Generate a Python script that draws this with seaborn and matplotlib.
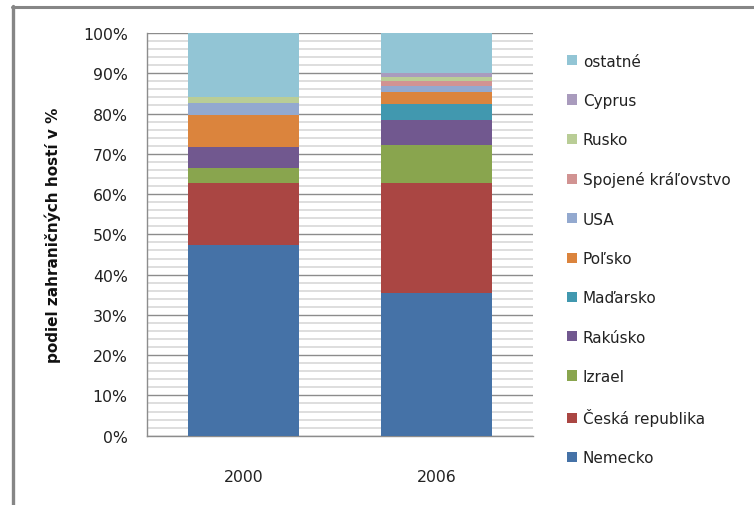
import numpy as np
import pandas as pd
import matplotlib
matplotlib.use("Agg")
import matplotlib.pyplot as plt
from matplotlib.patches import Patch
from matplotlib.lines import Line2D
from matplotlib.ticker import PercentFormatter, MultipleLocator
import seaborn as sns

# data (share of foreign guests, %)
years = ["2000", "2006"]
countries = ["Nemecko", "Česká republika", "Izrael", "Rakúsko", "Maďarsko",
             "Poľsko", "USA", "Spojené kráľovstvo", "Rusko", "Cyprus", "ostatné"]
share_2000 = [47.4, 15.3, 3.9, 5.0, 0.0, 8.1, 2.9, 0.0, 1.6, 0.0, 15.8]
share_2006 = [35.4, 27.3, 9.5, 6.2, 4.0, 2.9, 1.5, 1.3, 1.0, 0.9, 10.0]
colors = ["#4572A7", "#AA4643", "#89A54E", "#71588F", "#4198AF", "#DB843D",
          "#93A9CF", "#D19392", "#B9CD96", "#A99BBD", "#92C5D5"]

sns.set_style("white")
plt.rcParams["font.family"] = ["DejaVu Sans"]

W, H = 754, 506
fig = plt.figure(figsize=(W / 100, H / 100), dpi=100)
ax = fig.add_axes([147 / W, 1 - 436.7 / H, 386 / W, (436.7 - 34) / H])

df = pd.DataFrame({"year": years})
cum = np.cumsum(np.array([share_2000, share_2006]), axis=1)

# stacked bars: draw cumulative totals from the top series down
for i in range(len(countries) - 1, -1, -1):
    df["v"] = cum[:, i]
    sns.barplot(data=df, x="year", y="v", color=colors[i], saturation=1,
                width=0.57, linewidth=0, ax=ax, zorder=3)

ax.set_ylim(0, 100)
ax.set_xlim(-0.5, 1.5)
ax.yaxis.set_major_locator(MultipleLocator(10))
ax.yaxis.set_minor_locator(MultipleLocator(2))
ax.yaxis.set_major_formatter(PercentFormatter(100, decimals=0))
ax.grid(which="major", axis="y", color="#8c8c8c", linewidth=1.0, zorder=0)
ax.grid(which="minor", axis="y", color="#d4d4d4", linewidth=1.1, zorder=0)
ax.set_axisbelow(True)

for s in ["top", "right"]:
    ax.spines[s].set_visible(False)
for s in ["left", "bottom"]:
    ax.spines[s].set_color("#8c8c8c")
    ax.spines[s].set_linewidth(1.0)

ax.tick_params(axis="y", which="major", length=5.3, color="#8c8c8c", pad=8.6,
               labelsize=11.3, labelcolor="#222222")
ax.tick_params(axis="y", which="minor", length=0)
ax.tick_params(axis="x", length=0, pad=24, labelsize=11.3, labelcolor="#222222")
ax.set_xlabel("")
ax.set_ylabel("podiel zahraničných hostí v %", fontsize=11, fontweight="bold",
              color="#111111")
ax.yaxis.set_label_coords((61 - 147) / 386, 0.5)

handles = [Patch(facecolor=c, edgecolor="none") for c in colors][::-1]
fig.legend(handles, countries[::-1], loc="center left",
           bbox_to_anchor=(566.7 / W, 1 - 260.5 / H), frameon=False,
           fontsize=11, labelspacing=1.59, handlelength=0.65, handleheight=0.65,
           handletextpad=0.4, borderpad=0, borderaxespad=0, labelcolor="#222222")

# outer chart frame (top and left edges visible in the crop)
fig.add_artist(Line2D([11.5 / W, 1], [1 - 8 / H, 1 - 8 / H], color="#868686",
                      linewidth=2.2, transform=fig.transFigure))
fig.add_artist(Line2D([12.5 / W, 12.5 / W], [0, 1 - 7 / H], color="#868686",
                      linewidth=2.4, transform=fig.transFigure))

fig.savefig("out.png", dpi=100)
